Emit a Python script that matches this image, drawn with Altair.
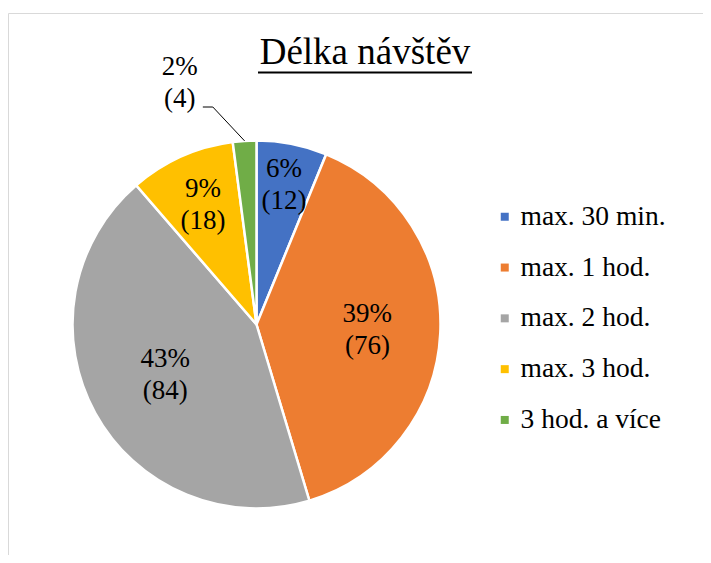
import math
import altair as alt
import pandas as pd

# ---------------- data ----------------
categories = ["max. 30 min.", "max. 1 hod.", "max. 2 hod.", "max. 3 hod.", "3 hod. a více"]
counts = [12, 76, 84, 18, 4]
colors = ["#4472C4", "#ED7D31", "#A5A5A5", "#FFC000", "#70AD47"]
title_text = "Délka návštěv"

# ---------------- style ----------------
FONT = "'Liberation Serif', 'Times New Roman', Times, serif"
CX, CY, R = 248.5, 316.5, 184
# label placement per slice: (radius, dx)
label_pos = [(142, 0), (111, 0), (104, 0), (131, 0), (242, -61)]
outer_idx = 4
LABEL_SIZE, LINE_H = 27, 32

total = sum(counts)
pct = [round(c / total * 100) for c in counts]
labels = [f"{p}%\n({c})" for p, c in zip(pct, counts)]

df = pd.DataFrame({"cat": categories, "count": counts, "idx": list(range(len(categories)))})
for i in range(len(categories)):
    df[f"t{i}"] = [labels[j] if j == i else "" for j in range(len(categories))]

base = alt.Chart(df)

pie = base.mark_arc(radius=R, stroke="white", strokeWidth=2.5).encode(
    theta=alt.Theta("count:Q", stack=True),
    color=alt.Color(
        "cat:N",
        sort=categories,
        scale=alt.Scale(domain=categories, range=colors),
        legend=alt.Legend(
            title=None,
            orient="none",
            legendX=483,
            legendY=195,
            symbolType="square",
            symbolSize=64,
            symbolStrokeWidth=0,
            labelFont=FONT,
            labelFontSize=27.5,
            labelColor="black",
            labelOffset=2,
            rowPadding=21.8,
            padding=0,
        ),
    ),
    order=alt.Order("idx:Q"),
    x=alt.value(CX),
    y=alt.value(CY),
)

text_layers = []
for i, (r, dx) in enumerate(label_pos):
    text_layers.append(
        base.mark_text(
            font=FONT, fontSize=LABEL_SIZE, lineBreak="\n", lineHeight=LINE_H,
            color="black", align="center", baseline="middle",
            radius=r, dx=dx, dy=-LINE_H / 2,
        ).encode(
            theta=alt.Theta("count:Q", stack=True),
            text=f"t{i}:N",
            order=alt.Order("idx:Q"),
            x=alt.value(CX),
            y=alt.value(CY),
        )
    )

# leader line for the small outer slice, derived from its mid angle
OUTER_R, OUTER_DX = label_pos[outer_idx]
mid = (sum(counts[:outer_idx]) + counts[outer_idx] / 2) / total * 2 * math.pi
ex, ey = CX + R * math.sin(mid), CY - R * math.cos(mid)
lx, ly = CX + OUTER_R * math.sin(mid) + OUTER_DX, CY - OUTER_R * math.cos(mid)
leader_df = pd.DataFrame({
    "px": [lx + 23, lx + 33, ex],
    "py": [ly + 24, ly + 24, ey],
    "k": [0, 1, 2],
})
leader = alt.Chart(leader_df).mark_line(color="black", strokeWidth=1).encode(
    x=alt.X("px:Q", scale=None, axis=None),
    y=alt.Y("py:Q", scale=None, axis=None),
    order="k:Q",
)

title_df = pd.DataFrame({"t": [title_text]})
title = alt.Chart(title_df).mark_text(
    font=FONT, fontSize=37, color="black", align="center", baseline="alphabetic"
).encode(text="t:N", x=alt.value(357), y=alt.value(56))
underline = alt.Chart(title_df).mark_rule(color="black", strokeWidth=2).encode(
    x=alt.value(250), x2=alt.value(464), y=alt.value(64.5)
)

frame = alt.Chart(title_df).mark_rect(fill=None, stroke="#d9d9d9", strokeWidth=1).encode(
    x=alt.value(0.5), x2=alt.value(900), y=alt.value(5.5), y2=alt.value(900)
)

chart = alt.layer(frame, pie, *text_layers, leader, title, underline).properties(
    width=695, height=547, padding=0,
    autosize=alt.AutoSizeParams(type="none"),
    background="white",
).configure_view(stroke=None)

chart.save("out.html", embed_options={"renderer": "svg", "actions": False})
